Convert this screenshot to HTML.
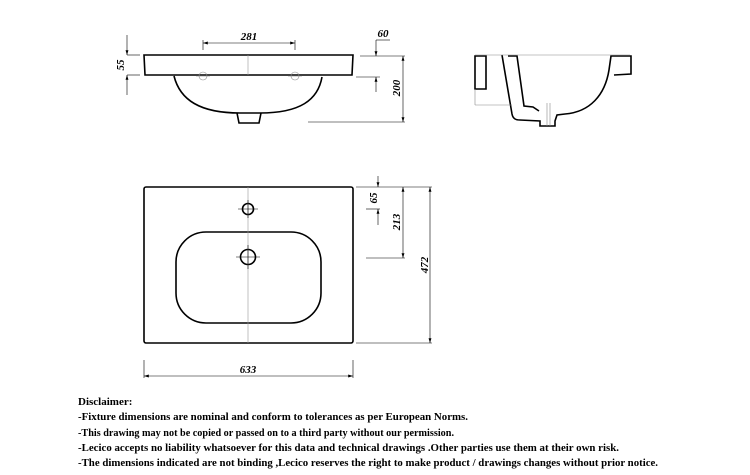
<!DOCTYPE html>
<html><head><meta charset="utf-8"><style>
html,body{margin:0;padding:0;background:#fff;width:750px;height:475px;overflow:hidden}
svg{display:block}
.t{font-family:"Liberation Serif",serif;font-weight:bold;font-size:11px;fill:#000}
.d{font-family:"Liberation Serif",serif;font-weight:bold;font-style:italic;font-size:11px;fill:#000}
</style></head><body>
<svg width="750" height="475" viewBox="0 0 750 475">
<defs>
<marker id="a" viewBox="0 0 10 6" refX="10" refY="3" markerWidth="8" markerHeight="5" orient="auto-start-reverse"><path d="M0,0L10,3L0,6z" fill="#000"/></marker>
</defs>
<g fill="none" stroke="#000" stroke-width="1.6">
<!-- top view -->
<path d="M144,55 L353,55 L352,75 L145,75 Z"/>
<path d="M174,76 C180,100 200,113 240,113 L260,113 C300,113 318,100 322,77"/>
<path d="M237,113 L239,123 L259,123 L261,113"/>
<!-- side view -->
<path d="M475,56 L486,56 L486,89 L475,89 Z"/>
<path d="M502,55 L512,114 C513,119 516,120 520,120 L540,121 L540,126 L555,126 L555,121 L557,115 L565,114 C590,112 605,95 609,70 L611,56 L631,56 L631,74 L614,75"/>
<path d="M508,56 L517,56 L524,106 L533,107 L539,111"/>
<!-- plan view -->
<rect x="144" y="187" width="209" height="156" rx="2"/>
<rect x="176" y="232" width="145" height="91" rx="30"/>
<circle cx="248" cy="209" r="5.5"/>
<circle cx="248" cy="257" r="7.5"/>
</g>
<g fill="none" stroke="#000" stroke-width="0.6">
<line x1="248" y1="187" x2="248" y2="343" stroke="#999"/>
<line x1="248" y1="55" x2="248" y2="75" stroke="#999"/>
<line x1="238" y1="209" x2="258" y2="209"/><line x1="248" y1="200" x2="248" y2="218"/>
<line x1="236" y1="257" x2="260" y2="257"/><line x1="248" y1="245" x2="248" y2="269"/>
<circle cx="203" cy="76" r="4" stroke="#888"/><circle cx="295" cy="76" r="4" stroke="#888"/>
<line x1="196" y1="76" x2="210" y2="76" stroke="#888"/><line x1="288" y1="76" x2="302" y2="76" stroke="#888"/>
<!-- dims top -->
<line x1="203" y1="43" x2="295" y2="43" marker-start="url(#a)" marker-end="url(#a)"/>
<line x1="203" y1="40" x2="203" y2="50"/><line x1="295" y1="40" x2="295" y2="50"/>
<line x1="127" y1="35" x2="127" y2="55" marker-end="url(#a)"/>
<line x1="127" y1="95" x2="127" y2="75" marker-end="url(#a)"/>
<line x1="127" y1="55" x2="140" y2="55"/><line x1="127" y1="75" x2="140" y2="75"/>
<line x1="376" y1="40" x2="376" y2="56" marker-end="url(#a)"/>
<line x1="376" y1="92" x2="376" y2="77" marker-end="url(#a)"/>
<line x1="376" y1="40" x2="390" y2="40"/>
<line x1="360" y1="56" x2="405" y2="56"/><line x1="356" y1="77" x2="380" y2="77"/>
<line x1="403" y1="56" x2="403" y2="122" marker-start="url(#a)" marker-end="url(#a)"/>
<line x1="308" y1="122" x2="405" y2="122"/>
<!-- side view thin -->
<line x1="475" y1="55" x2="630" y2="55" stroke="#888"/>
<line x1="475" y1="89" x2="475" y2="105" stroke="#888"/><line x1="475" y1="105" x2="512" y2="105" stroke="#888"/>
<line x1="547" y1="103" x2="547" y2="126" stroke="#888"/><line x1="550" y1="103" x2="550" y2="126" stroke="#888"/>
<!-- plan dims -->
<line x1="356" y1="187" x2="432" y2="187"/>
<line x1="378" y1="176" x2="378" y2="187" marker-end="url(#a)"/>
<line x1="378" y1="225" x2="378" y2="209" marker-end="url(#a)"/>
<line x1="366" y1="209" x2="380" y2="209"/>
<line x1="403" y1="187" x2="403" y2="258" marker-start="url(#a)" marker-end="url(#a)"/>
<line x1="366" y1="258" x2="405" y2="258"/>
<line x1="430" y1="187" x2="430" y2="343" marker-start="url(#a)" marker-end="url(#a)"/>
<line x1="356" y1="343" x2="432" y2="343"/>
<line x1="144" y1="376" x2="353" y2="376" marker-start="url(#a)" marker-end="url(#a)"/>
<line x1="144" y1="360" x2="144" y2="378"/><line x1="353" y1="360" x2="353" y2="378"/>
</g>
<text class="d" x="249" y="40" text-anchor="middle">281</text>
<text class="d" x="383" y="37" text-anchor="middle">60</text>
<text class="d" transform="translate(124,65) rotate(-90)" text-anchor="middle">55</text>
<text class="d" transform="translate(400,88) rotate(-90)" text-anchor="middle">200</text>
<text class="d" transform="translate(377,198) rotate(-90)" text-anchor="middle">65</text>
<text class="d" transform="translate(400,222) rotate(-90)" text-anchor="middle">213</text>
<text class="d" transform="translate(428,265) rotate(-90)" text-anchor="middle">472</text>
<text class="d" x="248" y="373" text-anchor="middle">633</text>
<text class="t" x="78" y="405">Disclaimer:</text>
<text class="t" x="78" y="420" textLength="390" lengthAdjust="spacingAndGlyphs">-Fixture dimensions are nominal and conform to tolerances as per European Norms.</text>
<text class="t" x="78" y="436" textLength="376" lengthAdjust="spacingAndGlyphs">-This drawing may not be copied or passed on to a third party without our permission.</text>
<text class="t" x="78" y="451" textLength="541" lengthAdjust="spacingAndGlyphs">-Lecico accepts no liability whatsoever for this data and technical drawings .Other parties use them at their own risk.</text>
<text class="t" x="78" y="466" textLength="580" lengthAdjust="spacingAndGlyphs">-The dimensions indicated are not binding ,Lecico reserves the right to make product / drawings changes without prior notice.</text>
</svg>
</body></html>
